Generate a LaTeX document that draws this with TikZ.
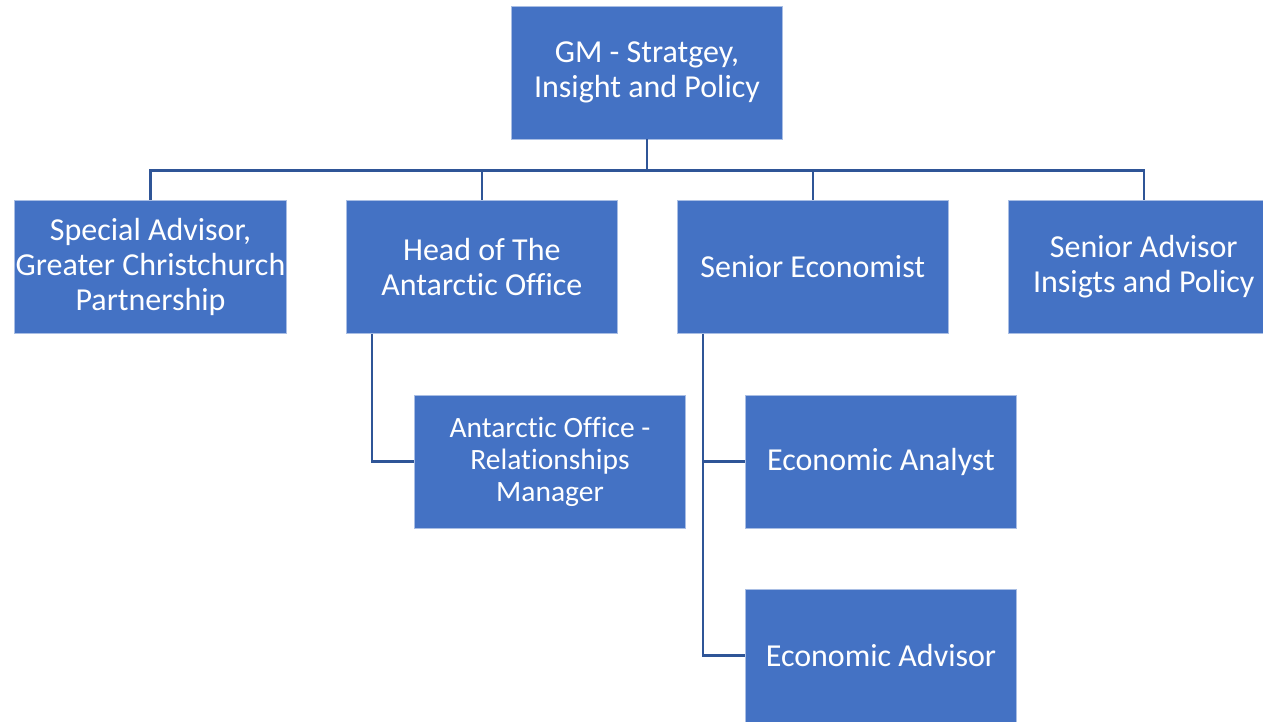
\documentclass[tikz,border=0pt]{standalone}
\usepackage{fontspec}
\setmainfont{Carlito}[Ligatures=NoCommon]
\usetikzlibrary{positioning}
\definecolor{boxblue}{HTML}{4472C4}
\definecolor{boxedge}{HTML}{A9BEE4}
\definecolor{linkblue}{HTML}{2F5597}
\tikzset{
    %Define style for boxes
    box/.style={
           rectangle,
           fill=boxblue,
           draw=boxedge, line width=0.8pt,
           text=white,
           minimum width=271pt,
           minimum height=133pt,
           inner sep=1pt,
           align=center,
           font=\fontsize{32}{35}\selectfont},
    % Define style for the small box text
    smalltext/.style={
           font=\fontsize{29.5}{32}\selectfont},
    % Define connector style
    link/.style={
           draw=linkblue,
           line width=2.5pt},
}
\begin{document}
\begin{tikzpicture}[x=1pt, y=-1pt]
 \useasboundingbox (0,0) rectangle (1263,721);
 %nodes
 \node[box] (gm) at (647,72.5) {GM - Stratgey,\\Insight and Policy};
 \node[box] (spec) at (150.5,267) {Special Advisor,\\Greater Christchurch\\Partnership};
 \node[box, right=59.2pt of spec] (head) {Head of The\\Antarctic Office};
 \node[box, right=59.2pt of head] (senior) {Senior Economist};
 \node[box, right=59.2pt of senior] (advis) {Senior Advisor\\Insigts and Policy};
 \node[box, smalltext] (rel) at (550,461.5) {Antarctic Office -\\Relationships\\Manager};
 \node[box] (analyst) at (881,461.5) {Economic Analyst};
 \node[box] (econadv) at (881,655.5) {Economic Advisor};
 %edges
 \draw[link] (gm.south) -- ++(0,31) -| (spec.north);
 \draw[link] (gm.south) -- ++(0,31) -| (head.north);
 \draw[link] (gm.south) -- ++(0,31) -| (senior.north);
 \draw[link] (gm.south) -- ++(0,31) -| (advis.north);
 \draw[link] ([xshift=26pt]head.south west) |- (rel.west);
 \draw[link] ([xshift=26pt]senior.south west) |- (analyst.west);
 \draw[link] ([xshift=26pt]senior.south west) |- (econadv.west);
\end{tikzpicture}
\end{document}
